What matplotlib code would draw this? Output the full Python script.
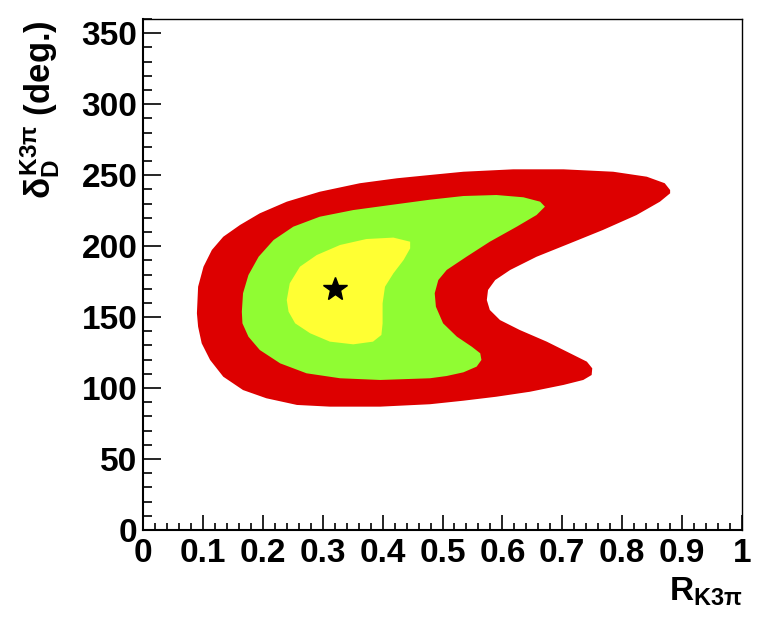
import numpy as np
import matplotlib
matplotlib.use('Agg')
import matplotlib.pyplot as plt
from matplotlib.ticker import MultipleLocator

plt.rcParams['font.family'] = ['Liberation Sans', 'DejaVu Sans']
plt.rcParams['font.weight'] = 'bold'
plt.rcParams['mathtext.fontset'] = 'custom'
plt.rcParams['mathtext.rm'] = 'Liberation Sans:bold'
plt.rcParams['mathtext.it'] = 'Liberation Sans:bold'
plt.rcParams['mathtext.bf'] = 'Liberation Sans:bold'

# contour outlines (R_K3pi, delta_D in degrees)
red_x = [0.090, 0.092, 0.101, 0.115, 0.134, 0.162, 0.195, 0.240, 0.295, 0.362, 0.424, 0.479,
         0.535, 0.618, 0.702, 0.785, 0.841, 0.871, 0.880, 0.880, 0.863, 0.824, 0.768, 0.713,
         0.657, 0.613, 0.588, 0.576, 0.574, 0.579, 0.596, 0.629, 0.674, 0.713, 0.741, 0.750,
         0.749, 0.735, 0.702, 0.646, 0.590, 0.535, 0.479, 0.396, 0.312, 0.257, 0.206, 0.167,
         0.134, 0.112, 0.098, 0.092]
red_y = [152.7, 171.4, 185.5, 197.3, 206.6, 214.9, 223.1, 231.3, 238.3, 244.3, 247.8, 250.1,
         252.4, 254.1, 254.1, 252.4, 248.9, 244.3, 239.5, 237.2, 231.3, 221.9, 211.4, 202.0,
         192.5, 183.2, 176.1, 169.1, 162.0, 155.0, 147.9, 140.9, 132.7, 124.5, 118.6, 113.9,
         109.2, 105.7, 102.2, 97.4, 93.9, 91.1, 88.6, 86.9, 86.9, 88.1, 92.8, 98.6,
         108.0, 119.8, 131.5, 143.2]

green_x = [0.165, 0.167, 0.176, 0.193, 0.218, 0.251, 0.295, 0.351, 0.412, 0.479, 0.535, 0.590,
           0.635, 0.663, 0.671, 0.657, 0.624, 0.579, 0.540, 0.507, 0.493, 0.487, 0.489, 0.501,
           0.524, 0.549, 0.563, 0.565, 0.557, 0.535, 0.507, 0.479, 0.396, 0.329, 0.273, 0.229,
           0.195, 0.176, 0.166]
green_y = [153.8, 166.8, 179.6, 192.5, 204.3, 213.7, 220.7, 225.4, 228.9, 232.7, 235.3, 236.0,
           234.4, 231.3, 227.8, 221.9, 213.7, 203.1, 192.5, 183.2, 176.1, 166.8, 157.3, 145.6,
           136.2, 129.1, 124.5, 119.8, 115.1, 111.1, 108.5, 106.9, 105.7, 106.9, 110.4, 117.4,
           126.8, 136.2, 145.6]

yellow_x = [0.240, 0.245, 0.262, 0.290, 0.329, 0.373, 0.418, 0.446, 0.446, 0.435, 0.418, 0.404,
            0.400, 0.400, 0.398, 0.384, 0.351, 0.312, 0.279, 0.254, 0.243]
yellow_y = [162.0, 173.8, 185.5, 193.7, 200.8, 205.0, 206.0, 203.1, 198.4, 190.2, 180.8, 171.4,
            159.7, 145.6, 137.4, 132.7, 130.8, 132.7, 138.6, 145.6, 153.8]

best_x = [0.32]
best_y = [170]

fig = plt.figure(figsize=(7.61, 6.31), dpi=100)
ax = fig.add_axes([143 / 761, 101 / 631, 599 / 761, 511 / 631])

ax.fill(red_x, red_y, color='#dd0000', lw=0)
ax.fill(green_x, green_y, color='#90fc33', lw=0)
ax.fill(yellow_x, yellow_y, color='#ffff33', lw=0)
ax.plot(best_x, best_y, marker='*', color='black', ms=18, ls='none')

ax.set_xlim(0, 1)
ax.set_ylim(0, 360)
ax.xaxis.set_major_locator(MultipleLocator(0.1))
ax.xaxis.set_minor_locator(MultipleLocator(0.02))
ax.yaxis.set_major_locator(MultipleLocator(50))
ax.yaxis.set_minor_locator(MultipleLocator(10))
ax.set_xticks(np.arange(0, 1.01, 0.1))
ax.set_xticklabels(['0', '0.1', '0.2', '0.3', '0.4', '0.5', '0.6', '0.7', '0.8', '0.9', '1'])

ax.tick_params(axis='both', which='both', direction='in', top=False, right=False,
               labelsize=24, width=1.2)
ax.tick_params(axis='y', which='major', length=13, pad=4)
ax.tick_params(axis='y', which='minor', length=6.5)
ax.tick_params(axis='x', which='major', length=11, pad=6)
ax.tick_params(axis='x', which='minor', length=5)
for lab in ax.get_xticklabels() + ax.get_yticklabels():
    lab.set_fontweight('bold')

for s in ['left', 'bottom']:
    ax.spines[s].set_linewidth(1.5)
for s in ['top', 'right']:
    ax.spines[s].set_linewidth(1.0)

fig.text(742 / 761, 1 - 576 / 631, r'R$_{\mathrm{K3\pi}}$', ha='right', va='top',
         fontsize=24, fontweight='bold')
fig.text(40 / 761, 1 - 20 / 631, r'$\delta_{\mathrm{D}}^{\mathrm{K3\pi}}$ (deg.)',
         rotation=90, ha='center', va='top', fontsize=25, fontweight='bold')

fig.savefig('out.png', dpi=100)
